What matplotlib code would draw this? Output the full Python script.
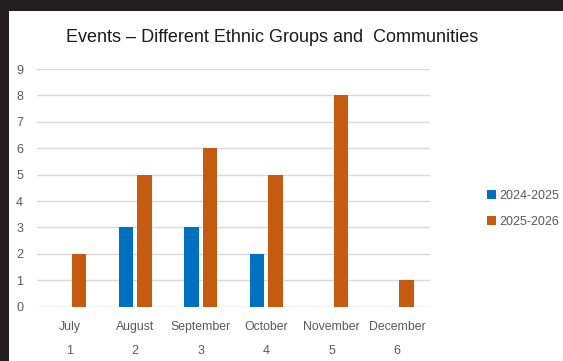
import matplotlib
matplotlib.use("Agg")
import matplotlib.pyplot as plt
import numpy as np

months = ["July", "August", "September", "October", "November", "December"]
numbers = ["1", "2", "3", "4", "5", "6"]
series_names = ["2024-2025", "2025-2026"]
events_2024 = [0, 3, 3, 2, 0, 0]
events_2025 = [2, 5, 6, 5, 8, 1]
colors = ["#0070C0", "#C55A11"]

plt.rcParams["font.family"] = ["Liberation Sans", "DejaVu Sans"]
W, H = 563, 361
fig = plt.figure(figsize=(W / 100, H / 100), dpi=100)
fig.patch.set_facecolor("#231f20")
# white chart area inside the dark frame
bg = fig.add_axes([9 / W, 0, 1 - 9 / W, 1 - 11 / H], zorder=-1)
bg.set_facecolor("white")
bg.set_xticks([])
bg.set_yticks([])
for s in bg.spines.values():
    s.set_visible(False)

ax = fig.add_axes([37 / W, (H - 306.7) / H, (430 - 37) / W, (306.7 - 69) / H])
ax.set_facecolor("none")
x = np.arange(len(months))
w = 0.22
ax.bar(x - 0.141, events_2024, w, color=colors[0], label=series_names[0], zorder=3)
ax.bar(x + 0.141, events_2025, w, color=colors[1], label=series_names[1], zorder=3)

ax.set_xlim(-0.5, 5.5)
ax.set_ylim(0, 9)
ax.set_yticks(range(10))
ax.yaxis.grid(True, color="#D9D9D9", linewidth=1)
ax.set_axisbelow(True)
for s in ax.spines.values():
    s.set_visible(False)
ax.tick_params(axis="y", length=0, pad=10, labelcolor="#595959", labelsize=9)
ax.set_xticks(x)
ax.set_xticklabels(months)
ax.tick_params(axis="x", length=0, pad=10, labelcolor="#595959", labelsize=8.8)
for i, n in enumerate(numbers):
    ax.text(x[i], -0.187, n, transform=ax.get_xaxis_transform(), ha="center", va="center",
            color="#595959", fontsize=9)

fig.text(272 / W, 1 - 38 / H, "Events \u2013 Different Ethnic Groups and  Communities",
         ha="center", va="center", fontsize=13, color="#1a1a1a")

ax.legend(loc="center left", bbox_to_anchor=(481 / W, 1 - 209 / H), bbox_transform=fig.transFigure,
          frameon=False, handlelength=0.7, handleheight=0.7, handletextpad=0.3,
          labelspacing=1.1, fontsize=9, labelcolor="#595959", borderpad=0)

fig.savefig("out.png", dpi=100)
